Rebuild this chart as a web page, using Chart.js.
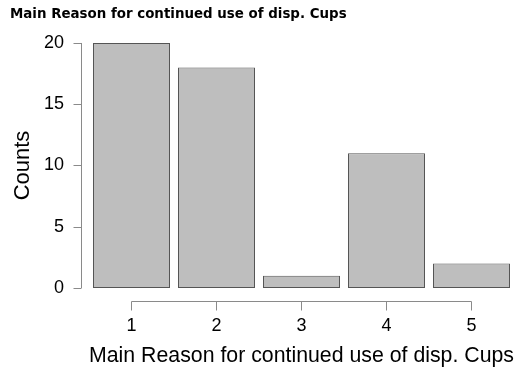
<!DOCTYPE html>
<html>
<head>
<meta charset="utf-8">
<script src="https://cdn.jsdelivr.net/npm/chart.js@4/dist/chart.umd.min.js"></script>
<style>
  html, body { margin: 0; padding: 0; background: #fff; }
  #wrap { width: 519px; height: 370px; }
</style>
</head>
<body>
<div id="wrap"><canvas id="myChart" width="519" height="370"></canvas></div>
<script>
// data //
const categories = ['1', '2', '3', '4', '5'];
const counts = [20, 18, 1, 11, 2];
const yTicks = [0, 5, 10, 15, 20];

const chartTitle = 'Main Reason for continued use of disp. Cups';
const xTitle = 'Main Reason for continued use of disp. Cups';
const yTitle = 'Counts';

// R style axes, drawn away from the plot area
const rAxes = {
    id: 'rAxes',
    afterDraw(chart) {
        const ctx = chart.ctx;
        const x = chart.scales.x;
        const y = chart.scales.y;
        const left = chart.chartArea.left;
        const bottom = chart.chartArea.bottom;
        ctx.save();
        ctx.strokeStyle = '#8a8a8a';
        ctx.lineWidth = 1;

        // y axis
        const ax = Math.round(left - 8) + 0.5;
        ctx.beginPath();
        ctx.moveTo(ax, y.getPixelForValue(yTicks[0]));
        ctx.lineTo(ax, y.getPixelForValue(yTicks[yTicks.length - 1]));
        yTicks.forEach(v => {
            const py = Math.round(y.getPixelForValue(v)) + 0.5;
            ctx.moveTo(ax, py);
            ctx.lineTo(ax - 8, py);
        });
        ctx.stroke();

        // x axis
        const ay = Math.round(bottom + 13) + 0.5;
        ctx.beginPath();
        ctx.moveTo(x.getPixelForValue(0), ay);
        ctx.lineTo(x.getPixelForValue(categories.length - 1), ay);
        categories.forEach((c, i) => {
            const px = Math.floor(x.getPixelForValue(i)) + 0.5;
            ctx.moveTo(px, ay);
            ctx.lineTo(px, ay + 9);
        });
        ctx.stroke();
        ctx.restore();
    }
};

let ctx = document.getElementById('myChart').getContext('2d');
let myChart = new Chart(ctx, {
    type: 'bar',
    data: {
        labels: categories,
        datasets: [{
            label: yTitle,
            data: counts,
            backgroundColor: '#bebebe',
            borderColor: '#555555',
            borderWidth: 1,
            borderSkipped: false,
            inflateAmount: 0,
            barPercentage: 77 / 85,
            categoryPercentage: 1.0
        }]
    },
    options: {
        responsive: false,
        animation: false,
        layout: { padding: { left: 10, right: 5, top: 0, bottom: 0 } },
        plugins: {
            legend: { display: false },
            tooltip: { enabled: false },
            title: {
                display: true,
                text: chartTitle,
                align: 'start',
                color: '#000',
                font: { family: 'DejaVu Sans', size: 13.4, weight: 'bold' },
                padding: { top: 6, bottom: 20.9 }
            }
        },
        scales: {
            x: {
                grid: { display: false, drawTicks: false },
                border: { display: false },
                ticks: {
                    color: '#000',
                    padding: 27,
                    font: { family: 'Liberation Sans', size: 18 }
                },
                title: {
                    display: true,
                    text: xTitle,
                    color: '#000',
                    font: { family: 'Liberation Sans', size: 22 },
                    padding: { top: 0, bottom: 1 }
                },
                afterFit(scale) { scale.height = 82; }
            },
            y: {
                min: 0,
                max: 20,
                grid: { display: false, drawTicks: false },
                border: { display: false },
                ticks: {
                    color: '#000',
                    padding: 25,
                    stepSize: 5,
                    font: { family: 'Liberation Sans', size: 18 }
                },
                title: {
                    display: true,
                    text: yTitle,
                    color: '#000',
                    font: { family: 'Liberation Sans', size: 22 },
                    padding: { top: 0, bottom: 0 }
                },
                afterFit(scale) { scale.width = 79; }
            }
        }
    },
    plugins: [rAxes]
});
</script>
</body>
</html>
